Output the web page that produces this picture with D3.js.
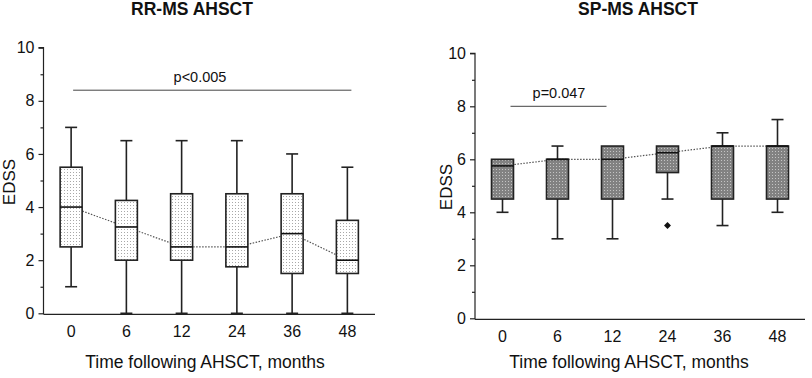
<!DOCTYPE html>
<html>
<head>
<meta charset="utf-8">
<script src="https://cdn.jsdelivr.net/npm/d3@7"></script>
<style>
  body { margin: 0; background: #fff; }
  text { font-family: Arial, "Liberation Sans", sans-serif; fill: #111; }
</style>
</head>
<body>
<div id="chart"></div>
<script>
// months after AHSCT (categories)
const months = ["0", "6", "12", "24", "36", "48"];
const yTicks = [0, 2, 4, 6, 8, 10];

// RR-MS: [min, q1, median, q3, max]
const rrMin    = [1, 0, 0, 0, 0, 0];
const rrQ1     = [2.5, 2, 2, 1.75, 1.5, 1.5];
const rrMedian = [4, 3.25, 2.5, 2.5, 3, 2];
const rrQ3     = [5.5, 4.25, 4.5, 4.5, 4.5, 3.5];
const rrMax    = [7, 6.5, 6.5, 6.5, 6, 5.5];

// SP-MS
const spMin    = [4, 3, 3, 4.5, 3.5, 4];
const spQ1     = [4.5, 4.5, 4.5, 5.5, 4.5, 4.5];
const spMedian = [5.75, 6, 6, 6.25, 6.5, 6.5];
const spQ3     = [6, 6, 6.5, 6.5, 6.5, 6.5];
const spMax    = [6, 6.5, 6.5, 6.5, 7, 7.5];
const spOutliers = [{ month: "24", value: 3.5 }];

const svg = d3.select("#chart").append("svg")
  .attr("width", 812).attr("height", 378);

const defs = svg.append("defs");
// light dotted fill (RR-MS)
const p1 = defs.append("pattern").attr("id", "dotsLight")
  .attr("width", 3).attr("height", 3).attr("patternUnits", "userSpaceOnUse");
p1.append("rect").attr("width", 3).attr("height", 3).attr("fill", "#fff");
p1.append("rect").attr("x", 1).attr("y", 1).attr("width", 1).attr("height", 1).attr("fill", "#a8a8a8");
// dark dotted fill (SP-MS)
const p2 = defs.append("pattern").attr("id", "dotsDark")
  .attr("width", 3).attr("height", 3).attr("patternUnits", "userSpaceOnUse");
p2.append("rect").attr("width", 3).attr("height", 3).attr("fill", "#828282");
p2.append("rect").attr("x", 1).attr("y", 1).attr("width", 1).attr("height", 1).attr("fill", "#c4c4c4");

function panel(opt) {
  const g = svg.append("g");
  const x = d3.scaleBand().domain(months).range([opt.x0, opt.x1]).paddingInner(0).paddingOuter(0);
  const y = d3.scaleLinear().domain([0, 10]).range([opt.y0, opt.y1]);
  const bw = 22, cap = 12;
  const cx = m => x(m) + x.bandwidth() / 2;

  // axes
  g.append("g")
    .attr("transform", `translate(${opt.x0},0)`)
    .call(d3.axisLeft(y).tickValues(d3.range(0, 11, 1)).tickSize(5).tickPadding(4)
      .tickFormat(d => yTicks.includes(d) ? d : ""))
    .call(a => a.selectAll(".tick line").attr("x2", d => d % 2 ? -3 : -5))
    .call(a => a.selectAll("text").style("font-size", "16px"))
    .call(a => a.select(".domain").attr("d", `M-5,${opt.y1}H0V${opt.y0 + 1}`));
  g.selectAll(".domain, .tick line").attr("stroke", "#222").attr("stroke-width", 1.2);

  g.append("g")
    .attr("transform", `translate(0,${opt.y0 + 1})`)
    .call(d3.axisBottom(x).tickSize(0).tickPadding(11))
    .call(a => a.selectAll("text").style("font-size", "16px"))
    .call(a => a.select(".domain").attr("d", `M${opt.x0},0H${opt.x1}`).attr("stroke", "#222").attr("stroke-width", 1.2));

  // titles
  g.append("text").attr("x", opt.titleX).attr("y", 15).attr("text-anchor", "middle")
    .style("font-size", "17.5px").style("font-weight", "bold").text(opt.title);
  g.append("text").attr("transform", `translate(${opt.yLabX},${opt.yLabY}) rotate(-90)`)
    .attr("text-anchor", "middle").style("font-size", "17px").text("EDSS");
  g.append("text").attr("x", opt.xLabX).attr("y", 368).attr("text-anchor", "middle")
    .style("font-size", "17.5px").text("Time following AHSCT, months");

  // significance bar
  g.append("line")
    .attr("x1", cx(opt.sig.from) + opt.sig.dx0).attr("x2", cx(opt.sig.to) + opt.sig.dx1)
    .attr("y1", y(opt.sig.value)).attr("y2", y(opt.sig.value))
    .attr("stroke", "#444").attr("stroke-width", 1);
  g.append("text").attr("x", opt.sig.tx).attr("y", y(opt.sig.value) - 8)
    .attr("text-anchor", "middle").style("font-size", "14.5px").text(opt.sig.label);

  const rows = months.map((m, i) => ({
    m, min: opt.min[i], q1: opt.q1[i], med: opt.med[i], q3: opt.q3[i], max: opt.max[i]
  }));

  // whiskers
  const wg = g.append("g").attr("stroke", "#222").attr("stroke-width", 1.6);
  rows.forEach(d => {
    if (d.max > d.q3) {
      wg.append("line").attr("x1", cx(d.m)).attr("x2", cx(d.m)).attr("y1", y(d.max)).attr("y2", y(d.q3));
      wg.append("line").attr("x1", cx(d.m) - cap / 2).attr("x2", cx(d.m) + cap / 2).attr("y1", y(d.max)).attr("y2", y(d.max));
    }
    if (d.min < d.q1) {
      wg.append("line").attr("x1", cx(d.m)).attr("x2", cx(d.m)).attr("y1", y(d.q1)).attr("y2", y(d.min));
      wg.append("line").attr("x1", cx(d.m) - cap / 2).attr("x2", cx(d.m) + cap / 2).attr("y1", y(d.min)).attr("y2", y(d.min));
    }
  });

  // median trend (dotted)
  g.append("path").datum(rows)
    .attr("d", d3.line().x(d => cx(d.m)).y(d => y(d.med)))
    .attr("fill", "none").attr("stroke", "#555").attr("stroke-width", 1.2)
    .attr("stroke-dasharray", "1.5,1.5");

  // boxes
  g.selectAll(".box").data(rows).enter().append("rect")
    .attr("x", d => cx(d.m) - bw / 2).attr("width", bw)
    .attr("y", d => y(d.q3)).attr("height", d => y(d.q1) - y(d.q3))
    .attr("fill", opt.fill).attr("stroke", "#222").attr("stroke-width", 1.6);
  g.selectAll(".med").data(rows).enter().append("line")
    .attr("x1", d => cx(d.m) - bw / 2).attr("x2", d => cx(d.m) + bw / 2)
    .attr("y1", d => y(d.med)).attr("y2", d => y(d.med))
    .attr("stroke", "#111").attr("stroke-width", 1.6);

  // outliers (square rotated into a diamond)
  g.selectAll(".out").data(opt.outliers || []).enter().append("path")
    .attr("d", d3.symbol().type(d3.symbolSquare).size(24))
    .attr("transform", d => `translate(${cx(d.month)},${y(d.value)}) rotate(45)`)
    .attr("fill", "#111");
}

panel({
  x0: 43.5, x1: 375, y0: 313.3, y1: 47.7,
  title: "RR-MS AHSCT", titleX: 192, yLabX: 15, yLabY: 182, xLabX: 205,
  min: rrMin, q1: rrQ1, med: rrMedian, q3: rrQ3, max: rrMax,
  fill: "url(#dotsLight)",
  sig: { from: "0", to: "48", value: 8.4, label: "p<0.005", dx0: 2, dx1: 4, tx: 200 }
});

panel({
  x0: 475, x1: 805, y0: 318.3, y1: 53.3,
  title: "SP-MS AHSCT", titleX: 638, yLabX: 452, yLabY: 187, xLabX: 629,
  min: spMin, q1: spQ1, med: spMedian, q3: spQ3, max: spMax,
  fill: "url(#dotsDark)", outliers: spOutliers,
  sig: { from: "0", to: "12", value: 8, label: "p=0.047", dx0: 8, dx1: -6, tx: 559 }
});
</script>
</body>
</html>
